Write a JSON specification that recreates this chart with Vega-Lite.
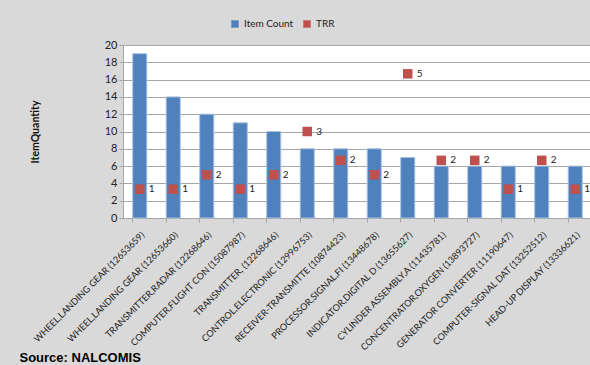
{
  "$schema": "https://vega.github.io/schema/vega-lite/v6.json",
  "autosize": "none",
  "width": 469,
  "height": 173,
  "padding": {"left": 123, "top": 45, "right": 0, "bottom": 147},
  "background": "#D9D9D9",
  "config": {
    "view": {"stroke": null, "fill": "white"},
    "font": "Lato",
    "axis": {"labelFont": "Lato", "titleFont": "Lato"}
  },
  "data": {
    "values": [
      {"part": "WHEEL,LANDING GEAR (12653659)", "count": 19, "trr": 1},
      {"part": "WHEEL,LANDING GEAR (12653660)", "count": 14, "trr": 1},
      {"part": "TRANSMITTER,RADAR  (12268646)", "count": 12, "trr": 1.5},
      {"part": "COMPUTER,FLIGHT  CON (15087987)", "count": 11, "trr": 1},
      {"part": "TRANSMITTER,  (12268646)", "count": 10, "trr": 1.5},
      {"part": "CONTROL,ELECTRONIC (12996753)", "count": 8, "trr": 3},
      {"part": "RECEIVER-TRANSMITTE  (10874423)", "count": 8, "trr": 2},
      {"part": "PROCESSOR,SIGNAL,FI (13448678)", "count": 8, "trr": 1.5},
      {"part": "INDICATOR,DIGITAL  D (13655627)", "count": 7, "trr": 5},
      {"part": "CYLINDER ASSEMBLY,A (11435781)", "count": 6, "trr": 2},
      {"part": "CONCENTRATOR,OXYGEN  (13893727)", "count": 6, "trr": 2},
      {"part": "GENERATOR  CONVERTER  (11190647)", "count": 6, "trr": 1},
      {"part": "COMPUTER-SIGNAL  DAT (13252512)", "count": 6, "trr": 2},
      {"part": "HEAD-UP DISPLAY (13336621)", "count": 6, "trr": 1}
    ]
  },
  "layer": [
    {
      "mark": {"type": "bar", "stroke": "#A9C1DF", "strokeWidth": 1},
      "encoding": {
        "x": {
          "field": "part", "type": "nominal", "sort": null,
          "scale": {"paddingInner": 0.58, "paddingOuter": 0.29},
          "axis": {
            "bandPosition": 0,
            "labelOffset": 3,
            "labelAngle": -45,
            "labelAlign": "right",
            "labelBaseline": "middle",
            "labelFontSize": 9.2,
            "labelColor": "#222222",
            "labelPadding": 11,
            "labelLimit": 300,
            "labelOverlap": false,
            "ticks": true,
            "tickSize": 4,
            "tickColor": "#A6A6A6",
            "domainColor": "#A6A6A6",
            "grid": false,
            "title": "Source: NALCOMIS",
            "titleFont": "Liberation Sans",
            "titleFontSize": 13,
            "titleFontWeight": "bold",
            "titleColor": "#000000",
            "titleX": -104,
            "titleY": 143,
            "titleAlign": "left",
            "titleBaseline": "alphabetic",
            "titleAngle": 0
          }
        },
        "y": {
          "field": "count", "type": "quantitative",
          "scale": {"domain": [0, 20]},
          "axis": {
            "values": [0, 2, 4, 6, 8, 10, 12, 14, 16, 18, 20],
            "labelFontSize": 11,
            "labelColor": "#222222",
            "tickColor": "#A6A6A6",
            "tickSize": 4,
            "domainColor": "#A6A6A6",
            "gridColor": "#A6A6A6",
            "title": "ItemQuantity",
            "titleFontSize": 10.5,
            "titleFontWeight": "bold",
            "titleColor": "#111111",
            "titlePadding": 64
          }
        },
        "color": {
          "datum": "Item Count",
          "scale": {"domain": ["Item Count", "TRR"], "range": ["#4F81BD", "#C0504D"]},
          "legend": {
            "orient": "none",
            "legendX": 107,
            "legendY": -26,
            "direction": "horizontal",
            "title": null,
            "symbolType": "square",
            "symbolSize": 55,
            "symbolStrokeWidth": 0,
            "labelFontSize": 10,
            "labelColor": "#222222",
            "columnPadding": 8
          }
        }
      }
    },
    {
      "mark": {"type": "point", "shape": "square", "filled": true, "size": 90, "opacity": 1},
      "encoding": {
        "x": {"field": "part", "type": "nominal", "sort": null},
        "y": {"field": "trr", "type": "quantitative", "scale": {"domain": [0, 6]}, "axis": null},
        "color": {"datum": "TRR"}
      }
    },
    {
      "mark": {"type": "text", "align": "left", "dx": 9, "fontSize": 10, "color": "#222222", "font": "Lato"},
      "encoding": {
        "x": {"field": "part", "type": "nominal", "sort": null},
        "y": {"field": "trr", "type": "quantitative", "scale": {"domain": [0, 6]}, "axis": null},
        "text": {"field": "trr", "type": "quantitative", "format": ".0f"}
      }
    }
  ],
  "resolve": {"scale": {"y": "independent"}}
}
